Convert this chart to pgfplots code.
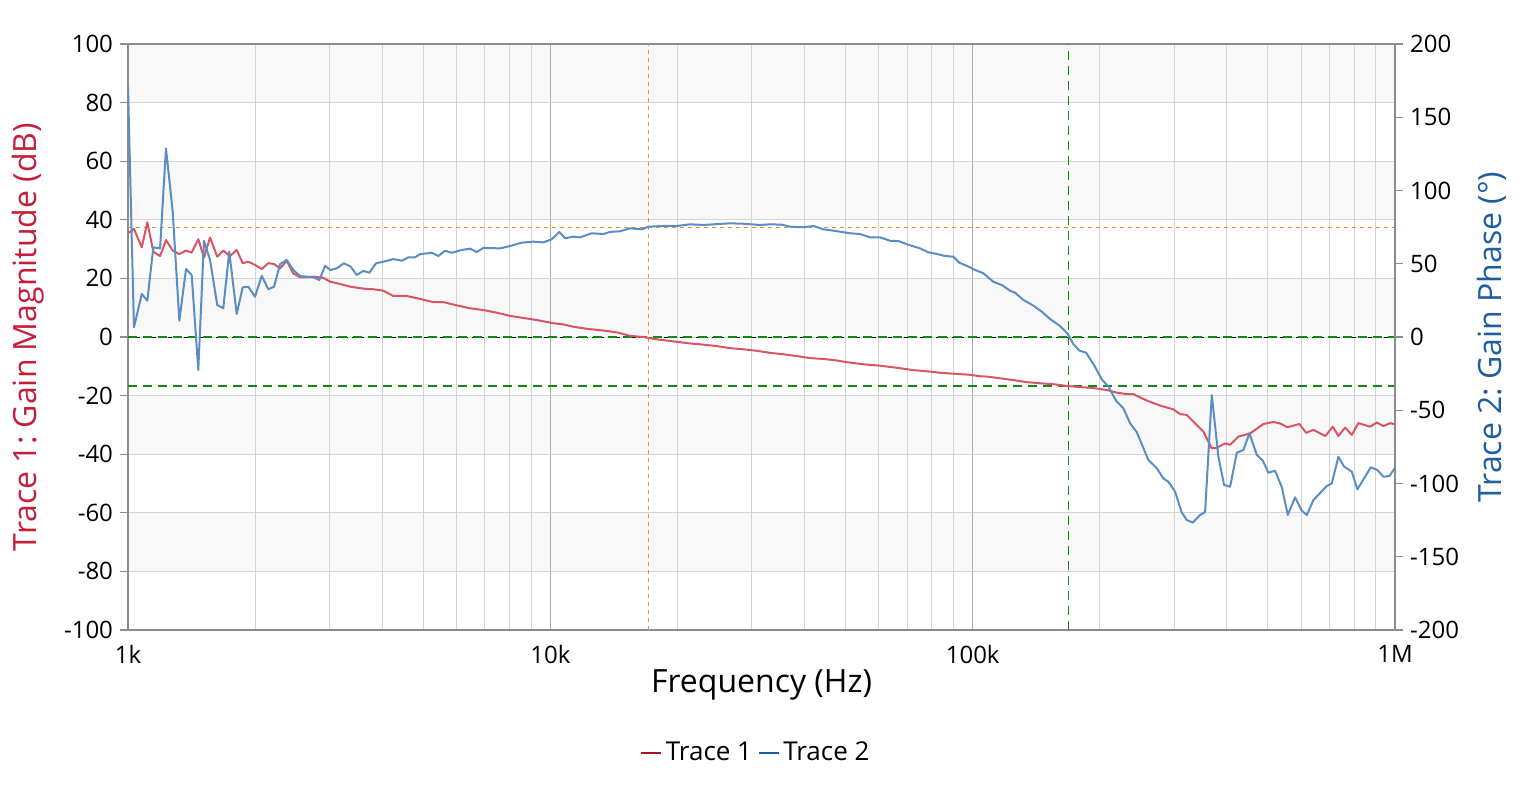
\documentclass[border=0pt]{standalone}
\usepackage{fontspec}
\setmainfont{Open Sans}
\usepackage{pgfplots}
\usepackage{pgfplotstable}
\pgfplotsset{compat=1.18}
\frenchspacing
\definecolor{trone}{HTML}{D95566}
\definecolor{trtwo}{HTML}{5B8DC5}
\definecolor{labone}{HTML}{C41E3A}
\definecolor{labtwo}{HTML}{1F5DA0}
\definecolor{legone}{HTML}{A4132A}
\definecolor{legtwo}{HTML}{1C5B9F}
\definecolor{refor}{HTML}{F28C28}
\definecolor{refgr}{HTML}{118811}
\definecolor{band}{HTML}{F8F8F8}
\definecolor{gridmaj}{HTML}{ABABAB}
\definecolor{gridmin}{HTML}{D4D4D4}
\definecolor{axline}{HTML}{8C8C8C}

\pgfplotstableread{
f v
1000 35.4
1033 36.9
1078 30.6
1111 39.2
1148 29.1
1191 27.6
1230 33.1
1276 29.5
1323 28.3
1372 29.5
1415 28.8
1467 33.4
1513 27.1
1564 34.0
1627 27.4
1681 29.5
1744 27.6
1809 29.7
1869 25.2
1927 25.7
1999 24.6
2073 23.2
2149 25.2
2217 24.9
2291 23.4
2376 26.0
2463 21.7
2555 20.4
2650 20.4
2747 20.6
2901 20.2
3008 18.9
3177 18.1
3355 17.2
3607 16.5
3809 16.3
4023 15.8
4248 14.0
4571 14.0
4914 13.0
5284 11.9
5580 11.9
6003 10.8
6454 9.8
6940 9.2
7466 8.3
8028 7.2
8631 6.5
9285 5.8
10165 4.7
10735 4.3
11336 3.5
12195 2.8
13350 2.2
14362 1.6
15443 0.4
16605 0.0
17863 -0.8
19556 -1.5
21420 -2.2
23031 -2.6
24777 -3.1
26641 -3.8
28644 -4.2
30815 -4.7
33135 -5.4
35624 -5.9
38325 -6.5
41208 -7.2
44307 -7.5
47665 -8.0
50337 -8.6
55105 -9.3
60356 -9.8
66113 -10.5
72381 -11.3
77863 -11.7
83722 -12.2
91700 -12.6
98596 -12.9
104120 -13.4
107990 -13.5
116120 -14.1
124850 -14.7
134310 -15.4
144410 -15.8
155280 -16.1
167050 -16.7
179620 -17.1
193120 -17.4
207770 -18.1
219400 -19.0
231700 -19.5
240170 -19.5
258390 -21.7
277830 -23.4
298720 -24.7
309850 -26.3
321370 -26.6
336250 -29.5
351810 -32.3
368290 -38.0
378480 -37.8
396000 -36.3
406940 -36.8
425780 -34.0
453840 -32.9
487980 -29.7
515310 -29.0
534520 -29.5
556200 -30.8
593830 -29.7
615890 -32.7
640900 -31.7
684280 -33.8
712420 -30.6
734500 -33.8
761830 -30.9
790170 -33.4
819110 -29.4
873100 -30.6
905560 -29.2
938750 -30.4
973700 -29.4
1000000 -29.8
}\traceone

\pgfplotstableread{
f v
1000 170.9
1033 6.6
1078 29.4
1111 24.8
1148 61.2
1191 60.5
1230 128.8
1276 85.5
1323 11.1
1372 46.4
1415 42.3
1467 -22.5
1513 65.7
1564 52.6
1627 21.8
1681 19.6
1737 58.2
1809 15.7
1869 33.9
1927 34.3
1999 27.5
2073 41.8
2149 32.6
2217 34.3
2291 49.8
2376 52.6
2463 45.7
2555 41.6
2650 41.2
2747 40.8
2838 38.9
2928 48.5
3020 45.7
3120 46.9
3247 50.3
3368 48.0
3480 42.3
3607 45.1
3727 43.9
3866 50.3
4023 51.4
4248 53.2
4448 52.1
4611 54.4
4782 54.4
4914 56.5
5238 57.5
5430 55.3
5632 58.9
5842 57.5
6169 59.4
6454 60.3
6695 58.0
6940 60.8
7601 60.5
8028 62.1
8556 64.4
9115 65.1
9626 64.6
10077 66.7
10503 71.7
10835 67.4
11336 68.5
11757 68.0
12532 70.8
13350 70.3
13848 71.7
14624 72.2
15443 74.2
16461 73.5
17065 75.3
18519 75.8
19923 75.8
21420 76.9
23031 76.5
24321 76.9
26641 77.6
28644 77.3
31376 76.5
33135 76.9
35315 76.7
36950 75.3
39730 74.9
41957 75.8
44307 73.5
46790 72.6
48983 71.7
51252 70.8
54124 70.3
57156 68.0
60356 68.0
63741 65.7
66693 65.5
71085 62.6
75071 60.5
78546 57.8
82229 56.7
86034 55.3
90015 54.8
93011 50.7
98596 47.6
100380 46.2
106010 43.5
111950 37.7
117190 35.5
122610 31.6
126010 30.2
131840 25.3
139230 21.4
145760 17.3
152510 12.3
161060 7.5
167590 2.5
173170 -4.8
178930 -9.3
185580 -10.7
193120 -18.4
202180 -28.9
209590 -33.9
218560 -43.5
227450 -48.7
235890 -58.9
244680 -65.0
260660 -84.0
272870 -89.6
282870 -96.5
290690 -98.8
301510 -105.6
312730 -119.9
321370 -124.9
332040 -126.7
345540 -121.5
355090 -119.5
368290 -39.6
381780 -81.7
393840 -101.0
406940 -102.2
422080 -79.0
437550 -77.1
452100 -65.7
470710 -80.5
486380 -84.4
501450 -92.6
520140 -91.3
539480 -102.6
557400 -121.5
580050 -109.4
601590 -118.6
618250 -121.5
640900 -111.3
689450 -101.7
708550 -99.9
734500 -81.7
757720 -88.5
790170 -91.9
814670 -104.0
876450 -88.9
908580 -90.8
938750 -95.4
970500 -94.9
1000000 -89.2
}\tracetwo

\begin{document}
\begin{tikzpicture}
\path[use as bounding box] (-64pt,-79.5pt) rectangle (702pt,315pt);
% background bands
\begin{axis}[
  scale only axis, width=633.5pt, height=293pt,
  xmin=0, xmax=1, ymin=-100, ymax=100,
  hide axis,
]
\fill[band] (axis cs:0,80) rectangle (axis cs:1,100);
\fill[band] (axis cs:0,40) rectangle (axis cs:1,60);
\fill[band] (axis cs:0,0) rectangle (axis cs:1,20);
\fill[band] (axis cs:0,-40) rectangle (axis cs:1,-20);
\fill[band] (axis cs:0,-80) rectangle (axis cs:1,-60);
\end{axis}
\begin{axis}[
  scale only axis, width=633.5pt, height=293pt,
  xmode=log, xmin=1000, xmax=1000000,
  tick align=outside, major tick length=4pt,
  every tick label/.append style={font=\fontsize{12}{14}\selectfont, text=black},
  axis line style={draw=axline, line width=0.9pt},
  ytick style={color=axline, line width=0.6pt},
  xtick style={draw=none},
  minor tick length=0pt,
  ymin=-100, ymax=100,
  ytick={-100,-80,...,100},
  yticklabels={-100,-80,-60,-40,-20,0,20,40,60,80,100},
  ytick pos=left, xtick pos=bottom,
  xtick={1000,10000,100000,1000000},
  xticklabels={1k,10k,100k,1M},
  xmajorgrids, xminorgrids, ymajorgrids,
  major x grid style={color=gridmaj, line width=0.5pt},
  minor x grid style={color=gridmin, line width=0.5pt},
  major y grid style={color=gridmin, line width=0.5pt},
  xlabel={Frequency (Hz)},
  ylabel={Trace 1: Gain Magnitude (dB)},
  xlabel style={at={(axis description cs:0.5,0)}, anchor=base, yshift=-31pt, font=\fontsize{16}{19}\selectfont},
  ylabel style={at={(axis description cs:-0.079,0.5)}, anchor=center, font=\fontsize{16}{19}\selectfont, text=labone},
]
\addplot[refor, line width=0.5pt, dash pattern=on 2pt off 2pt, forget plot] coordinates {(17050,-100) (17050,100)};
\addplot[refor, line width=0.5pt, dash pattern=on 2pt off 2pt, forget plot] coordinates {(1000,37.45) (1000000,37.45)};
\addplot[black, line width=0.5pt, dash pattern=on 2pt off 2pt, forget plot] coordinates {(1000,0) (1000000,0)};
\addplot[refgr, line width=0.75pt, dash pattern=on 4.5pt off 3pt, forget plot] coordinates {(1000,0) (1000000,0)};
\addplot[refgr, line width=0.75pt, dash pattern=on 4.5pt off 3pt, forget plot] coordinates {(1000,-16.7) (1000000,-16.7)};
\addplot[refgr, line width=0.75pt, dash pattern=on 4.5pt off 3pt, forget plot] coordinates {(168500,-100) (168500,100)};
\addplot[trone, line width=1pt, line join=round, forget plot] table[x=f, y=v] {\traceone};
\end{axis}
\begin{axis}[
  scale only axis, width=633.5pt, height=293pt,
  xmode=log, xmin=1000, xmax=1000000,
  tick align=outside, major tick length=4pt,
  every tick label/.append style={font=\fontsize{12}{14}\selectfont, text=black},
  axis line style={draw=axline, line width=0.9pt},
  ytick style={color=axline, line width=0.6pt},
  minor tick length=0pt,
  ymin=-200, ymax=200,
  ytick={-200,-150,...,200},
  yticklabels={-200,-150,-100,-50,0,50,100,150,200},
  axis x line=none, axis y line*=right,
  ylabel={Trace 2: Gain Phase (°)},
  ylabel style={at={(axis description cs:1.0766,0.5)}, anchor=center, font=\fontsize{16}{19}\selectfont, text=labtwo},
  legend style={draw=none, fill=none, legend columns=2, at={(axis description cs:0.4965,0)}, anchor=center, yshift=-61.5pt, font=\fontsize{13}{15}\selectfont, /tikz/every even column/.append style={column sep=1pt}},
  legend image code/.code={\draw[#1] (0pt,0pt) -- (10pt,0pt);},
]
\addlegendimage{legone, line width=0.6pt}
\addlegendentry{Trace 1}
\addlegendimage{legtwo, line width=0.6pt}
\addlegendentry{Trace 2}
\addplot[trtwo, line width=1pt, line join=round] table[x=f, y=v] {\tracetwo};
\end{axis}
\end{tikzpicture}
\end{document}
